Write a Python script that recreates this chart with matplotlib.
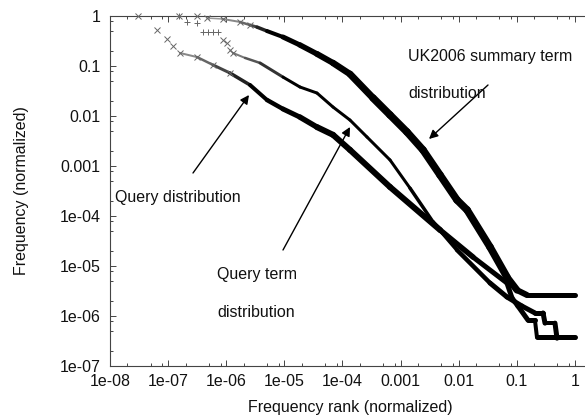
import numpy as np
import matplotlib
matplotlib.use("Agg")
import matplotlib.pyplot as plt
from matplotlib.collections import LineCollection
from matplotlib.ticker import LogLocator, FixedLocator, FixedFormatter, NullFormatter

# ---------------- data ----------------
uk_x = [3.03e-8, 1.54e-7, 3.14e-7, 4.67e-7, 8.8e-7, 1.73e-6, 2.57e-6, 3.39e-6, 5.04e-6,
        9.5e-6, 1.86e-5, 3.66e-5, 6.9e-5, 1.35e-4, 3.37e-4, 6.59e-4, 1.29e-3, 2.44e-3,
        4.79e-3, 9.38e-3, 1.40e-2, 3.47e-2, 6.81e-2, 0.101, 0.150, 1.0]
uk_y = [1.0, 1.0, 1.0, 0.91, 0.87, 0.76, 0.66, 0.60, 0.50,
        0.38, 0.263, 0.174, 0.115, 0.069, 0.0229, 0.0105, 4.8e-3, 2.09e-3,
        6.6e-4, 2.09e-4, 1.32e-4, 2.4e-5, 6.0e-6, 3.3e-6, 2.63e-6, 2.63e-6]

qd_x = [6.44e-8, 9.57e-8, 1.21e-7, 1.60e-7, 3.14e-7, 5.93e-7, 1.16e-6, 2.57e-6, 5.04e-6,
        9.5e-6, 1.86e-5, 3.65e-5, 6.9e-5, 1.35e-4, 6.6e-4, 4.8e-3, 1.77e-2, 6.8e-2,
        8.3e-2, 0.105, 0.156, 0.206, 0.223, 1.0]
qd_y = [0.525, 0.347, 0.251, 0.182, 0.151, 0.105, 0.0724, 0.0417, 0.0209,
        0.0138, 9.5e-3, 6.0e-3, 4.2e-3, 2.1e-3, 3.8e-4, 5.25e-5, 1.51e-5, 4.57e-6,
        2.29e-6, 1.58e-6, 8.3e-7, 8.3e-7, 3.8e-7, 3.8e-7]

qt_x = [1.54e-7, 2.11e-7, 3.14e-7, 3.99e-7, 4.86e-7, 5.93e-7, 7.23e-7, 8.8e-7, 1.03e-6,
        1.16e-6, 1.31e-6, 2.11e-6, 3.82e-6, 9.5e-6, 1.86e-5, 3.65e-5, 6.9e-5, 1.35e-4,
        2.65e-4, 6.6e-4, 1.46e-3, 3.63e-3, 9.4e-3, 3.47e-2, 6.8e-2, 0.123, 0.206, 0.284,
        0.307, 0.456, 0.494, 1.0]
qt_y = [1.0, 0.76, 0.72, 0.479, 0.479, 0.479, 0.479, 0.331, 0.288,
        0.209, 0.182, 0.145, 0.115, 0.060, 0.038, 0.0288, 0.0151, 8.3e-3,
        3.8e-3, 1.32e-3, 3.6e-4, 7.6e-5, 2.09e-5, 4.57e-6, 2.4e-6, 1.58e-6, 1.15e-6, 1.15e-6,
        7.2e-7, 7.2e-7, 3.6e-7, 3.6e-7]

x_ticks = [1e-8, 1e-7, 1e-6, 1e-5, 1e-4, 1e-3, 1e-2, 1e-1, 1]
x_labels = ['1e-08', '1e-07', '1e-06', '1e-05', '1e-04', '0.001', '0.01', '0.1', '1']
y_ticks = [1e-7, 1e-6, 1e-5, 1e-4, 1e-3, 1e-2, 1e-1, 1]
y_labels = ['1e-07', '1e-06', '1e-05', '1e-04', '0.001', '0.01', '0.1', '1']

# ---------------- style ----------------
plt.rcParams['font.family'] = ['Liberation Sans', 'DejaVu Sans']
FS = 11.5
W, H = 585, 417
fig = plt.figure(figsize=(W / 100, H / 100), dpi=100)
ax_l, ax_r, ax_t, ax_b = 110, 585, 16, 366
ax = fig.add_axes([ax_l / W, 1 - ax_b / H, (ax_r - ax_l) / W, (ax_b - ax_t) / H])
ax.set_xscale('log')
ax.set_yscale('log')
ax.set_xlim(1e-8, 10 ** ((ax_r - ax_l) / 58.1 - 8))
ax.set_ylim(1e-7, 1)

ax.xaxis.set_major_locator(FixedLocator(x_ticks))
ax.xaxis.set_major_formatter(FixedFormatter(x_labels))
ax.yaxis.set_major_locator(FixedLocator(y_ticks))
ax.yaxis.set_major_formatter(FixedFormatter(y_labels))
ax.xaxis.set_minor_locator(LogLocator(base=10, subs=(2, 5, 8)))
ax.yaxis.set_minor_locator(LogLocator(base=10, subs=(2, 5, 8)))
ax.xaxis.set_minor_formatter(NullFormatter())
ax.yaxis.set_minor_formatter(NullFormatter())
ax.tick_params(which='both', direction='in', top=True, right=False, color='#444444',
               width=0.7, labelsize=FS, labelcolor='#111111')
ax.tick_params(which='major', length=4.3)
ax.tick_params(which='minor', length=2.2)
ax.tick_params(axis='x', pad=5.5)
ax.tick_params(axis='y', pad=7)
for s in ['left', 'bottom', 'top']:
    ax.spines[s].set_color('#444444')
    ax.spines[s].set_linewidth(0.8)
ax.spines['right'].set_visible(False)


def draw(xs, ys, start, widths_px, colors):
    pts = np.column_stack([xs[start:], ys[start:]])
    segs = [pts[i:i + 2] for i in range(len(pts) - 1)]
    lc = LineCollection(segs, linewidths=np.array(widths_px) * 0.72, colors=colors,
                        capstyle='round', joinstyle='round', zorder=3)
    lc.set_clip_on(False)
    ax.add_collection(lc)


mk = dict(linestyle='none', markersize=5, markeredgewidth=0.7, clip_on=False, zorder=4)

# UK2006 summary term distribution
ax.plot(uk_x[:7], uk_y[:7], marker='x', color='#666666', **mk)
draw(uk_x, uk_y, 3,
     [1.5, 2, 2.5, 3, 3.5, 4, 5, 5.5, 6, 6.5, 7, 7.5, 7.5, 7.5, 7.5, 7.5, 7.5, 7.5, 7.5,
      7, 6, 5, 5],
     ['#999999', '#888888', '#666666', '#444444', '#222222'] + ['black'] * 18)

# Query distribution
ax.plot(qd_x[:7], qd_y[:7], marker='x', color='#666666', **mk)
draw(qd_x, qd_y, 3,
     [2, 2.5, 3, 3.5, 4, 4.5, 5, 5.5, 6, 6, 6, 6, 5.5, 5, 5, 5, 5, 5, 4, 5],
     ['#888888', '#666666', '#444444', '#222222'] + ['black'] * 16)

# Query term distribution
ax.plot(qt_x[:7], qt_y[:7], marker='+', color='#666666', **mk)
ax.plot(qt_x[7:11], qt_y[7:11], marker='x', color='#666666', **mk)
draw(qt_x, qt_y, 9,
     [1.5, 2, 2.5, 3, 3, 3, 3, 3, 3, 3, 3, 3.5, 4, 4.5, 5, 5, 5, 5, 5, 4, 5, 4],
     ['#999999', '#777777', '#555555', '#333333'] + ['black'] * 18)

# ---------------- annotations (figure pixel coordinates) ----------------
def fp(x, y):
    return (x, H - y)

txt = dict(fontsize=FS, color='#111111', ha='left', va='baseline')
fig.text(408 / W, 1 - 61 / H, 'UK2006 summary term', **txt)
fig.text(408 / W, 1 - 98 / H, 'distribution', **txt)
fig.text(115 / W, 1 - 202 / H, 'Query distribution', **txt)
fig.text(217 / W, 1 - 279 / H, 'Query term', **txt)
fig.text(217 / W, 1 - 317 / H, 'distribution', **txt)

arrow = dict(arrowstyle='-|>', color='black', lw=1.0, mutation_scale=13, shrinkA=0, shrinkB=0)
ax.annotate('', xy=fp(429, 139), xytext=fp(488, 85), xycoords='figure pixels',
            textcoords='figure pixels', arrowprops=arrow, zorder=5)
ax.annotate('', xy=fp(249, 95), xytext=fp(193, 173), xycoords='figure pixels',
            textcoords='figure pixels', arrowprops=arrow, zorder=5)
ax.annotate('', xy=fp(350, 127), xytext=fp(283, 250), xycoords='figure pixels',
            textcoords='figure pixels', arrowprops=arrow, zorder=5)

fig.text(350 / W, 1 - 412 / H, 'Frequency rank (normalized)', fontsize=FS,
         color='#111111', ha='center', va='baseline')
fig.text(22 / W, 1 - 191 / H, 'Frequency (normalized)', fontsize=FS, color='#111111',
         ha='center', va='center', rotation=90)

fig.savefig('out.png', dpi=100)
